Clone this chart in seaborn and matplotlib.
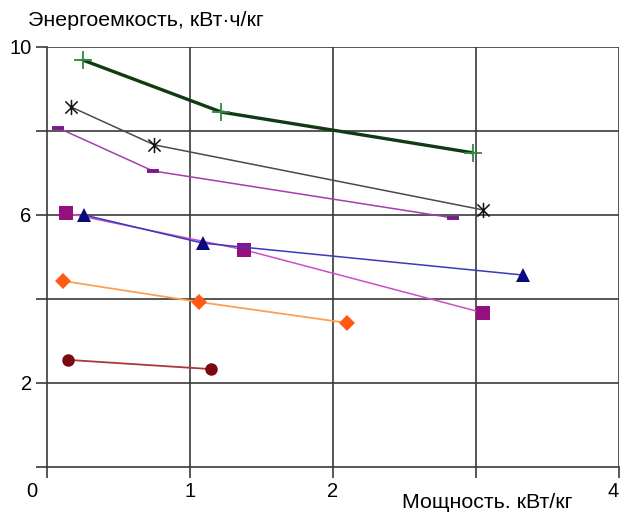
import numpy as np
import pandas as pd
import matplotlib as mpl
mpl.use('Agg')
import matplotlib.pyplot as plt
from matplotlib.path import Path
from matplotlib.transforms import ScaledTranslation
import seaborn as sns

# data
x1 = [0.25, 1.22, 2.98]
y1 = [9.69, 8.45, 7.48]
x2 = [0.17, 0.75, 3.05]
y2 = [8.57, 7.67, 6.12]
x3 = [0.08, 0.74, 2.84]
y3 = [8.07, 7.05, 5.93]
x4 = [0.13, 1.38, 3.05]
y4 = [6.05, 5.17, 3.67]
x5 = [0.26, 1.09, 3.33]
y5 = [6.00, 5.33, 4.57]
x6 = [0.11, 1.06, 2.10]
y6 = [4.43, 3.93, 3.43]
x7 = [0.15, 1.15]
y7 = [2.55, 2.33]

xticks = [0, 1, 2, 3, 4]
xticklabels = ['0', '1', '2', '', '4']
yticks = [0, 2, 4, 6, 8, 10]
yticklabels = ['', '2', '', '6', '', '10']

sns.set_style('white')
plt.rcParams['font.family'] = ['Liberation Sans', 'DejaVu Sans']

fig = plt.figure(figsize=(6.21, 5.13), dpi=100)
ax = fig.add_axes([47/621, 1-467/513, 572/621, 420/513])

grid_c = '#3a3a3a'
for v in xticks[1:]:
    ax.axvline(v, color=grid_c, lw=1.2, zorder=1)
for v in yticks[1:]:
    ax.axhline(v, color=grid_c, lw=1.2, zorder=1)

# excel-like star marker: X with a vertical bar
star = Path([(0, -1), (0, 1), (-0.8, -0.8), (0.8, 0.8), (-0.8, 0.8), (0.8, -0.8)],
            [Path.MOVETO, Path.LINETO] * 3)

# (x, y, line colour, lw, marker, marker face, marker edge, size, mew)
series = [
    (x1, y1, '#0f3a12', 2.4, '+', 'none', '#2e8b3a', 13, 1.3),
    (x2, y2, '#4a4a4a', 1.1, star, 'none', '#111111', 11, 1.1),
    (x3, y3, '#a63cae', 1.1, '_', 'none', '#7a1a8a', 9, 2.8),
    (x4, y4, '#cc4ec8', 1.1, 's', '#93107e', '#93107e', 10, 0),
    (x5, y5, '#3a3ab8', 1.1, '^', '#0a0a80', '#0a0a80', 10, 0),
    (x6, y6, '#ffa050', 1.3, 'D', '#ff5a14', '#ff5a14', 8, 0),
    (x7, y7, '#a83a3a', 1.3, 'o', '#7a0a10', '#7a0a10', 9, 0),
]
for xs, ys, lc, lw, mk, mfc, mec, ms, mew in series:
    sns.lineplot(x=xs, y=ys, ax=ax, color=lc, lw=lw, marker=mk,
                 markerfacecolor=mfc, markeredgecolor=mec,
                 markersize=ms, markeredgewidth=mew, zorder=3)

ax.set_xlim(0, 4)
ax.set_ylim(0, 10)
ax.set_xticks(xticks)
ax.set_xticklabels(xticklabels)
ax.set_yticks(yticks)
ax.set_yticklabels(yticklabels)
ax.tick_params(axis='both', direction='out', length=8, width=1.2,
               color=grid_c, labelsize=14.5, labelcolor='black', pad=3,
               bottom=True, left=True)
lab0 = ax.get_xticklabels()[0]
lab0.set_transform(lab0.get_transform() + ScaledTranslation(-0.15, 0, fig.dpi_scale_trans))
ax.get_xticklabels()[-1].set_horizontalalignment('right')
for s in ['top', 'right']:
    ax.spines[s].set_visible(False)
for s in ['left', 'bottom']:
    ax.spines[s].set_color(grid_c)
    ax.spines[s].set_linewidth(1.2)
ax.set_xlabel('')
ax.set_ylabel('')

fig.text(28/621, 1-21/513, 'Энергоемкость, кВт·ч/кг', fontsize=15.4,
         color='black', ha='left', va='center')
fig.text(402/621, 1-502/513, 'Мощность. кВт/кг', fontsize=15.4,
         color='black', ha='left', va='center')

fig.savefig('out.png', dpi=100)
